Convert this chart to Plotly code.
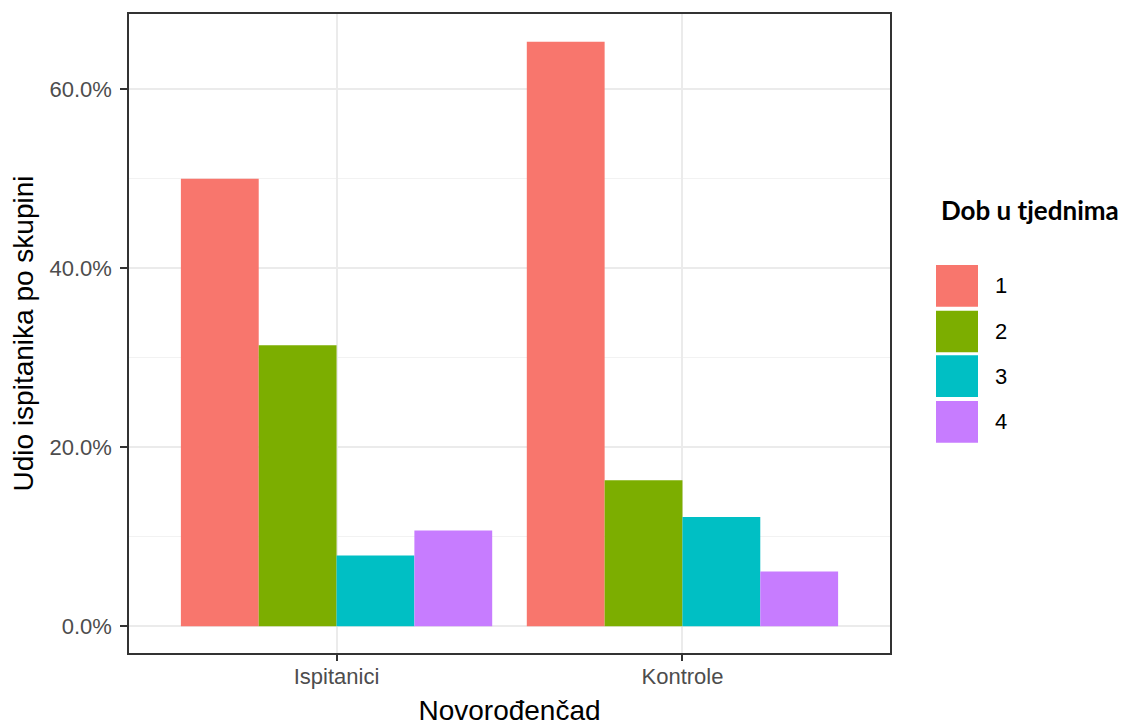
import plotly.graph_objects as go

categories = ["Ispitanici", "Kontrole"]
age_groups = ["1", "2", "3", "4"]
values = {
    "1": [0.500, 0.653],
    "2": [0.314, 0.163],
    "3": [0.079, 0.122],
    "4": [0.107, 0.061],
}
colors = ["#F8766D", "#7CAE00", "#00BFC4", "#C77CFF"]
y_ticks = [0.0, 0.2, 0.4, 0.6]
y_minor = [0.1, 0.3, 0.5]
y_range = [-0.030, 0.684]

# page body has an 8px margin; compensate so the plot lands where the reference has it
OFF = 8
W, H = 1131 - OFF, 726 - OFF
L, R, T, B = 129 - OFF, 241, 12 - OFF, 70
pw, ph = W - L - R, H - T - B

def px_x(x):
    return (x - OFF - L) / pw

def px_y(y):
    return (H - B - (y - OFF)) / ph

fig = go.Figure()
for g, c in zip(age_groups, colors):
    fig.add_trace(go.Bar(x=categories, y=values[g], name=g, marker=dict(color=c, line=dict(width=0)),
                         showlegend=False))

font = "Liberation Sans, Arial, sans-serif"
fig.update_layout(
    width=W, height=H,
    margin=dict(l=L, r=R, t=T, b=B),
    paper_bgcolor="white", plot_bgcolor="white",
    barmode="group", bargap=0.1, bargroupgap=0,
    font=dict(family=font, size=22, color="#4D4D4D"),
)
fig.update_xaxes(
    range=[-0.6, 1.6], showline=True, mirror=True, linecolor="#333333", linewidth=1.6,
    showgrid=True, gridcolor="#EBEBEB", gridwidth=2,
    ticks="outside", ticklen=6, tickwidth=1.6, tickcolor="#333333",
    tickfont=dict(size=22, color="#4D4D4D"), ticklabelstandoff=-3,
    title=dict(text="Novorođenčad", font=dict(size=28, color="black"), standoff=13),
    zeroline=False,
)
fig.update_yaxes(
    range=y_range, tickvals=y_ticks, tickformat=".1%",
    showline=True, mirror=True, linecolor="#333333", linewidth=1.6,
    showgrid=True, gridcolor="#EBEBEB", gridwidth=2,
    minor=dict(tickvals=y_minor, showgrid=True, gridcolor="#F2F2F2", gridwidth=1, ticks=""),
    ticks="outside", ticklen=7, tickwidth=1.6, tickcolor="#333333",
    tickfont=dict(size=22, color="#4D4D4D"), ticklabelstandoff=4,
    title=dict(text="Udio ispitanika po skupini", font=dict(size=28, color="black"), standoff=12),
    zeroline=False,
)

# custom ggplot-style legend
key_tops = [265, 311, 356, 402]
for g, c, top in zip(age_groups, colors, key_tops):
    fig.add_shape(type="rect", xref="paper", yref="paper",
                  x0=px_x(936), x1=px_x(978), y0=px_y(top + 42), y1=px_y(top),
                  fillcolor=c, line=dict(width=0))
    fig.add_annotation(xref="paper", yref="paper", x=px_x(993), y=px_y(top + 21),
                       text=g, showarrow=False, xanchor="left", yanchor="middle",
                       font=dict(family=font, size=22, color="black"))
fig.add_annotation(xref="paper", yref="paper", x=px_x(939), y=px_y(210),
                   text="<b>Dob u tjednima</b>", showarrow=False, xanchor="left", yanchor="middle",
                   font=dict(family="Lato, Open Sans, sans-serif", size=26, color="black"))

fig.write_html("out.html")
